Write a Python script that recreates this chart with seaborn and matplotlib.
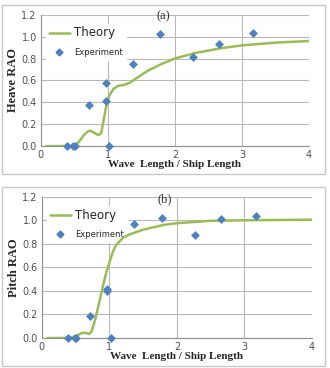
import numpy as np
import pandas as pd
import matplotlib
matplotlib.use("Agg")
import matplotlib.pyplot as plt
from matplotlib.patches import Rectangle
from matplotlib.lines import Line2D
import seaborn as sns

# Heave (a)
heave_theory_x = [0.08, 0.3, 0.45, 0.52, 0.58, 0.64, 0.7, 0.74, 0.8, 0.86, 0.9, 0.94, 0.98, 1.02,
                  1.08, 1.15, 1.25, 1.33, 1.45, 1.6, 1.8, 2.0, 2.3, 2.7, 3.0, 3.5, 4.0]
heave_theory_y = [0.0, 0.0, 0.002, 0.01, 0.05, 0.1, 0.135, 0.14, 0.12, 0.1, 0.12, 0.25, 0.38, 0.46,
                  0.52, 0.55, 0.56, 0.58, 0.63, 0.69, 0.75, 0.8, 0.85, 0.895, 0.92, 0.945, 0.96]
heave_exp_x = [0.39, 0.48, 0.51, 0.72, 0.97, 0.97, 1.02, 1.37, 1.78, 2.27, 2.66, 3.17]
heave_exp_y = [0.0, 0.0, 0.0, 0.375, 0.58, 0.41, 0.0, 0.75, 1.02, 0.815, 0.935, 1.035]

# Pitch (b)
pitch_theory_x = [0.08, 0.3, 0.45, 0.52, 0.58, 0.64, 0.7, 0.74, 0.8, 0.86, 0.9, 0.95, 1.0, 1.05,
                  1.1, 1.2, 1.3, 1.5, 1.8, 2.0, 2.5, 3.0, 4.0]
pitch_theory_y = [0.0, 0.0, 0.005, 0.02, 0.04, 0.045, 0.035, 0.06, 0.18, 0.33, 0.43, 0.55, 0.64, 0.73,
                  0.79, 0.85, 0.88, 0.92, 0.96, 0.975, 0.995, 1.0, 1.005]
pitch_exp_x = [0.39, 0.49, 0.51, 0.72, 0.97, 0.97, 1.03, 1.37, 1.78, 2.27, 2.66, 3.17]
pitch_exp_y = [0.0, 0.0, 0.0, 0.19, 0.42, 0.40, 0.0, 0.97, 1.02, 0.875, 1.01, 1.04]

GREEN = "#9bbb59"
BLUE = "#4f81bd"

sns.set_style("white")
fig = plt.figure(figsize=(3.3, 3.68), dpi=100)

# panel frames
for (y0, h) in [(0.527, 0.459), (0.005, 0.486)]:
    fig.patches.append(Rectangle((0.006, y0), 0.979, h, transform=fig.transFigure,
                                 fill=False, edgecolor="#c8c8c8", linewidth=1.0))

panels = [
    ([0.124, 0.603, 0.812, 0.357], heave_theory_x, heave_theory_y, heave_exp_x, heave_exp_y,
     "Heave RAO", "(a)"),
    ([0.127, 0.0815, 0.818, 0.384], pitch_theory_x, pitch_theory_y, pitch_exp_x, pitch_exp_y,
     "Pitch RAO", "(b)"),
]

for rect, tx, ty, ex, ey, ylabel, tag in panels:
    ax = fig.add_axes(rect)
    theory = pd.DataFrame({"x": tx, "y": ty})
    exp = pd.DataFrame({"x": ex, "y": ey})
    sns.lineplot(data=theory, x="x", y="y", color=GREEN, linewidth=1.8, ax=ax, zorder=3)
    sns.scatterplot(data=exp, x="x", y="y", marker="D", color=BLUE, s=16, edgecolor=BLUE,
                    linewidth=0.5, ax=ax, zorder=4, clip_on=False)
    ax.set_xlim(0, 4)
    ax.set_ylim(0, 1.2)
    ax.set_xticks([0, 1, 2, 3, 4])
    ax.set_yticks(np.arange(0, 1.21, 0.2))
    ax.set_yticklabels([f"{v:.1f}" for v in np.arange(0, 1.21, 0.2)])
    ax.grid(True, color="#b8b8b8", linewidth=0.8)
    ax.set_axisbelow(True)
    for side in ["top", "right"]:
        ax.spines[side].set_visible(False)
    for side in ["left", "bottom"]:
        ax.spines[side].set_color("#909090")
        ax.spines[side].set_linewidth(0.8)
    ax.tick_params(axis="both", labelsize=7, colors="#909090", labelcolor="#505050",
                   length=0, pad=3)
    ax.set_xlabel("Wave  Length / Ship Length", family="Liberation Serif", fontweight="bold",
                  fontsize=8, labelpad=0)
    ax.set_ylabel(ylabel, family="Liberation Serif", fontweight="bold", fontsize=9, labelpad=2)
    ax.text(0.455, 0.985, tag, transform=ax.transAxes, ha="center", va="center",
            family="Liberation Serif", fontsize=9, color="#303030")
    handles = [Line2D([], [], color=GREEN, linewidth=1.8),
               Line2D([], [], marker="D", color=BLUE, linestyle="", markersize=3.5)]
    leg = ax.legend(handles, ["Theory", "Experiment"], loc="upper left",
                    bbox_to_anchor=(0.0, 0.97), frameon=True, framealpha=1.0,
                    edgecolor="white", fontsize=7, handlelength=2.2, borderpad=0.3,
                    labelspacing=0.9, handletextpad=0.4)
    leg.set_zorder(2.5)
    for t, s in zip(leg.get_texts(), [8.5, 6]):
        t.set_fontsize(s)

fig.savefig("out.png", dpi=100)
